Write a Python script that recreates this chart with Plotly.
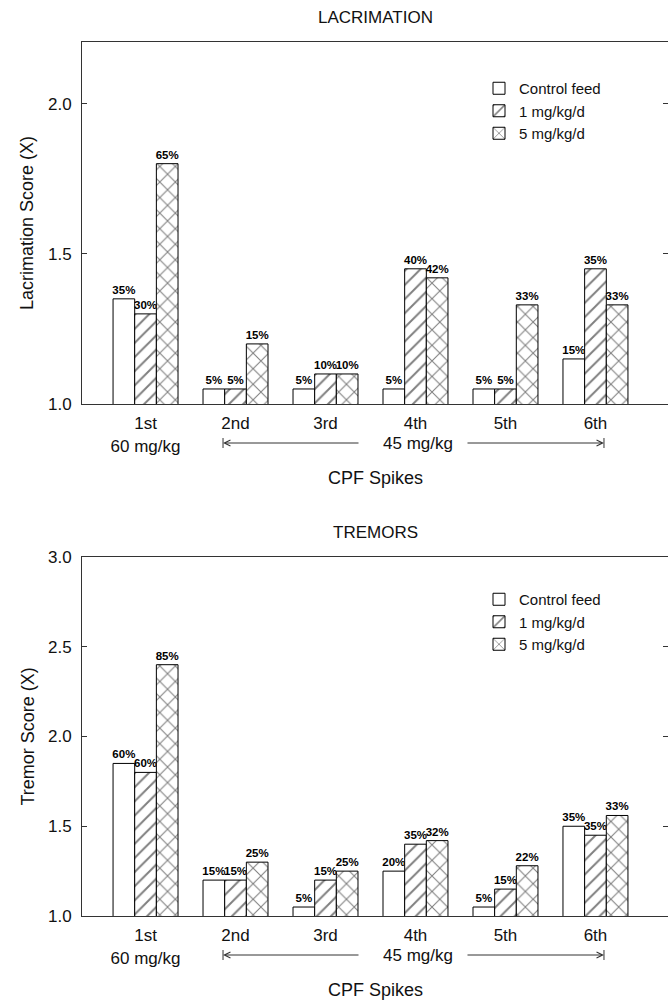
import plotly.graph_objects as go

# ---------------- data ----------------
spikes = ["1st<br>60 mg/kg", "2nd", "3rd", "4th", "5th", "6th"]
series_names = ["Control feed", "1 mg/kg/d", "5 mg/kg/d"]

lac_control = [1.35, 1.05, 1.05, 1.05, 1.05, 1.15]
lac_1mg = [1.30, 1.05, 1.10, 1.45, 1.05, 1.45]
lac_5mg = [1.80, 1.20, 1.10, 1.42, 1.33, 1.33]
lac_control_pct = ["35%", "5%", "5%", "5%", "5%", "15%"]
lac_1mg_pct = ["30%", "5%", "10%", "40%", "5%", "35%"]
lac_5mg_pct = ["65%", "15%", "10%", "42%", "33%", "33%"]

trem_control = [1.85, 1.20, 1.05, 1.25, 1.05, 1.50]
trem_1mg = [1.80, 1.20, 1.20, 1.40, 1.15, 1.45]
trem_5mg = [2.40, 1.30, 1.25, 1.42, 1.28, 1.56]
trem_control_pct = ["60%", "15%", "5%", "20%", "5%", "35%"]
trem_1mg_pct = ["60%", "15%", "15%", "35%", "15%", "35%"]
trem_5mg_pct = ["85%", "25%", "25%", "32%", "22%", "33%"]

y_ticks_top = [1.0, 1.5, 2.0]
y_ticks_bot = [1.0, 1.5, 2.0, 2.5, 3.0]

# ---------------- styling ----------------
FONT = "Liberation Sans, Arial, sans-serif"
AX = "#333333"
pos = list(range(len(spikes)))
patterns = [("", 8, 0.2), ("/", 10, 0.2), ("x", 11, 0.18)]

fig = go.Figure()


def add_bars(vals_list, pcts_list, xa, ya, legend):
    for name, vals, pcts, (pat, psize, sol) in zip(series_names, vals_list, pcts_list, patterns):
        fig.add_trace(go.Bar(
            x=pos, y=vals, name=name, xaxis=xa, yaxis=ya, legend=legend,
            marker=dict(color="white", line=dict(color="black", width=1),
                        pattern=dict(shape=pat, fgcolor="black", bgcolor="white",
                                     size=psize, solidity=sol)),
            text=pcts, textposition="outside", constraintext="none",
            textfont=dict(family=FONT, size=11.5, color="black", weight="bold"),
            cliponaxis=False,
        ))


add_bars([lac_control, lac_1mg, lac_5mg],
         [lac_control_pct, lac_1mg_pct, lac_5mg_pct], "x", "y", "legend")
add_bars([trem_control, trem_1mg, trem_5mg],
         [trem_control_pct, trem_1mg_pct, trem_5mg_pct], "x2", "y2", "legend2")

# dummy traces for right-hand mirrored tick axes
fig.add_trace(go.Scatter(x=[None], y=[None], xaxis="x", yaxis="y3", showlegend=False))
fig.add_trace(go.Scatter(x=[None], y=[None], xaxis="x2", yaxis="y4", showlegend=False))

xr = [-0.706, 5.806]
xcommon = dict(range=xr, tickvals=pos, ticktext=spikes, showline=True, linecolor=AX,
               linewidth=1, mirror=True, ticks="", showgrid=False, zeroline=False,
               tickfont=dict(family=FONT, size=17, color="#111"), ticklabelstandoff=4)
ycommon = dict(showline=True, linecolor=AX, linewidth=1, ticks="inside", ticklen=5,
               tickcolor=AX, showgrid=False, zeroline=False, tickformat=".1f",
               tickfont=dict(family=FONT, size=17, color="#111"), ticklabelstandoff=6)
yright = dict(showline=False, ticks="inside", ticklen=5, tickcolor=AX, showgrid=False,
              zeroline=False, showticklabels=False, side="right")

top_dom = [(916 - 404) / 874, 1.0]
bot_dom = [0.0, (916 - 557) / 874]

fig.update_layout(
    width=668, height=1000,
    margin=dict(l=82, r=0, t=42, b=84),
    paper_bgcolor="white", plot_bgcolor="white",
    barmode="group", bargap=0.278, bargroupgap=0,
    font=dict(family=FONT, color="#111"),
    xaxis=dict(domain=[0, 1], anchor="y", **xcommon),
    xaxis2=dict(domain=[0, 1], anchor="y2", **xcommon),
    yaxis=dict(domain=top_dom, anchor="x", range=[1.0, 2.205], tickvals=y_ticks_top, **ycommon),
    yaxis2=dict(domain=bot_dom, anchor="x2", range=[1.0, 3.0], tickvals=y_ticks_bot, **ycommon),
    yaxis3=dict(overlaying="y", anchor="x", range=[1.0, 2.205], tickvals=y_ticks_top, **yright),
    yaxis4=dict(overlaying="y2", anchor="x2", range=[1.0, 3.0], tickvals=y_ticks_bot, **yright),
    legend=dict(x=(479 - 82) / 586, y=(916 - 72) / 874, xanchor="left", yanchor="top",
                bgcolor="rgba(0,0,0,0)", font=dict(family=FONT, size=15, color="#111"),
                tracegroupgap=0, itemwidth=30),
    legend2=dict(x=(479 - 82) / 586, y=(916 - 583) / 874, xanchor="left", yanchor="top",
                 bgcolor="rgba(0,0,0,0)", font=dict(family=FONT, size=15, color="#111"),
                 tracegroupgap=0, itemwidth=30),
    showlegend=True,
)

annotations = []
shapes = []
for xa, ya, title, ytitle, dom_h in [("x", "y", "LACRIMATION", "Lacrimation Score (X)", 362),
                                     ("x2", "y2", "TREMORS", "Tremor Score (X)", 359)]:
    yd = f"{ya} domain"
    annotations += [
        dict(text=title, xref=f"{xa} domain", yref=yd, x=0.5, y=1 + 25 / dom_h,
             showarrow=False, xanchor="center", yanchor="middle",
             font=dict(family=FONT, size=17, color="#111")),
        dict(text=ytitle, xref="paper", yref=yd, x=(27 - 82) / 586, y=0.5, textangle=-90,
             showarrow=False, xanchor="center", yanchor="middle",
             font=dict(family=FONT, size=18, color="#111")),
        dict(text="CPF Spikes", xref=f"{xa} domain", yref=yd, x=0.5, y=-74 / dom_h,
             showarrow=False, xanchor="center", yanchor="middle",
             font=dict(family=FONT, size=18, color="#111")),
        dict(text="45 mg/kg", xref=xa, yref=yd, x=(418 - 145.5) / 90, y=-39 / dom_h,
             showarrow=False, xanchor="center", yanchor="middle",
             font=dict(family=FONT, size=17, color="#111")),
        # left arrow
        dict(text="", xref=xa, yref=yd, x=(223 - 145.5) / 90, y=-39 / dom_h,
             axref=xa, ax=(360 - 145.5) / 90, ayref="pixel", ay=0, showarrow=True,
             arrowhead=5, arrowsize=1.2, arrowwidth=1, arrowcolor=AX, standoff=0),
        # right arrow
        dict(text="", xref=xa, yref=yd, x=(604 - 145.5) / 90, y=-39 / dom_h,
             axref=xa, ax=(466 - 145.5) / 90, ayref="pixel", ay=0, showarrow=True,
             arrowhead=5, arrowsize=1.2, arrowwidth=1, arrowcolor=AX, standoff=0),
    ]
    for xp in [(223 - 145.5) / 90, (604 - 145.5) / 90]:
        shapes.append(dict(type="line", xref=xa, yref=yd, x0=xp, x1=xp,
                           y0=(-39 - 5) / dom_h, y1=(-39 + 5) / dom_h,
                           line=dict(color=AX, width=1)))

fig.update_layout(annotations=annotations, shapes=shapes)
fig.write_html("out.html", config={"displayModeBar": False},
               post_script="document.body.style.margin='0';document.body.style.padding='0';")
